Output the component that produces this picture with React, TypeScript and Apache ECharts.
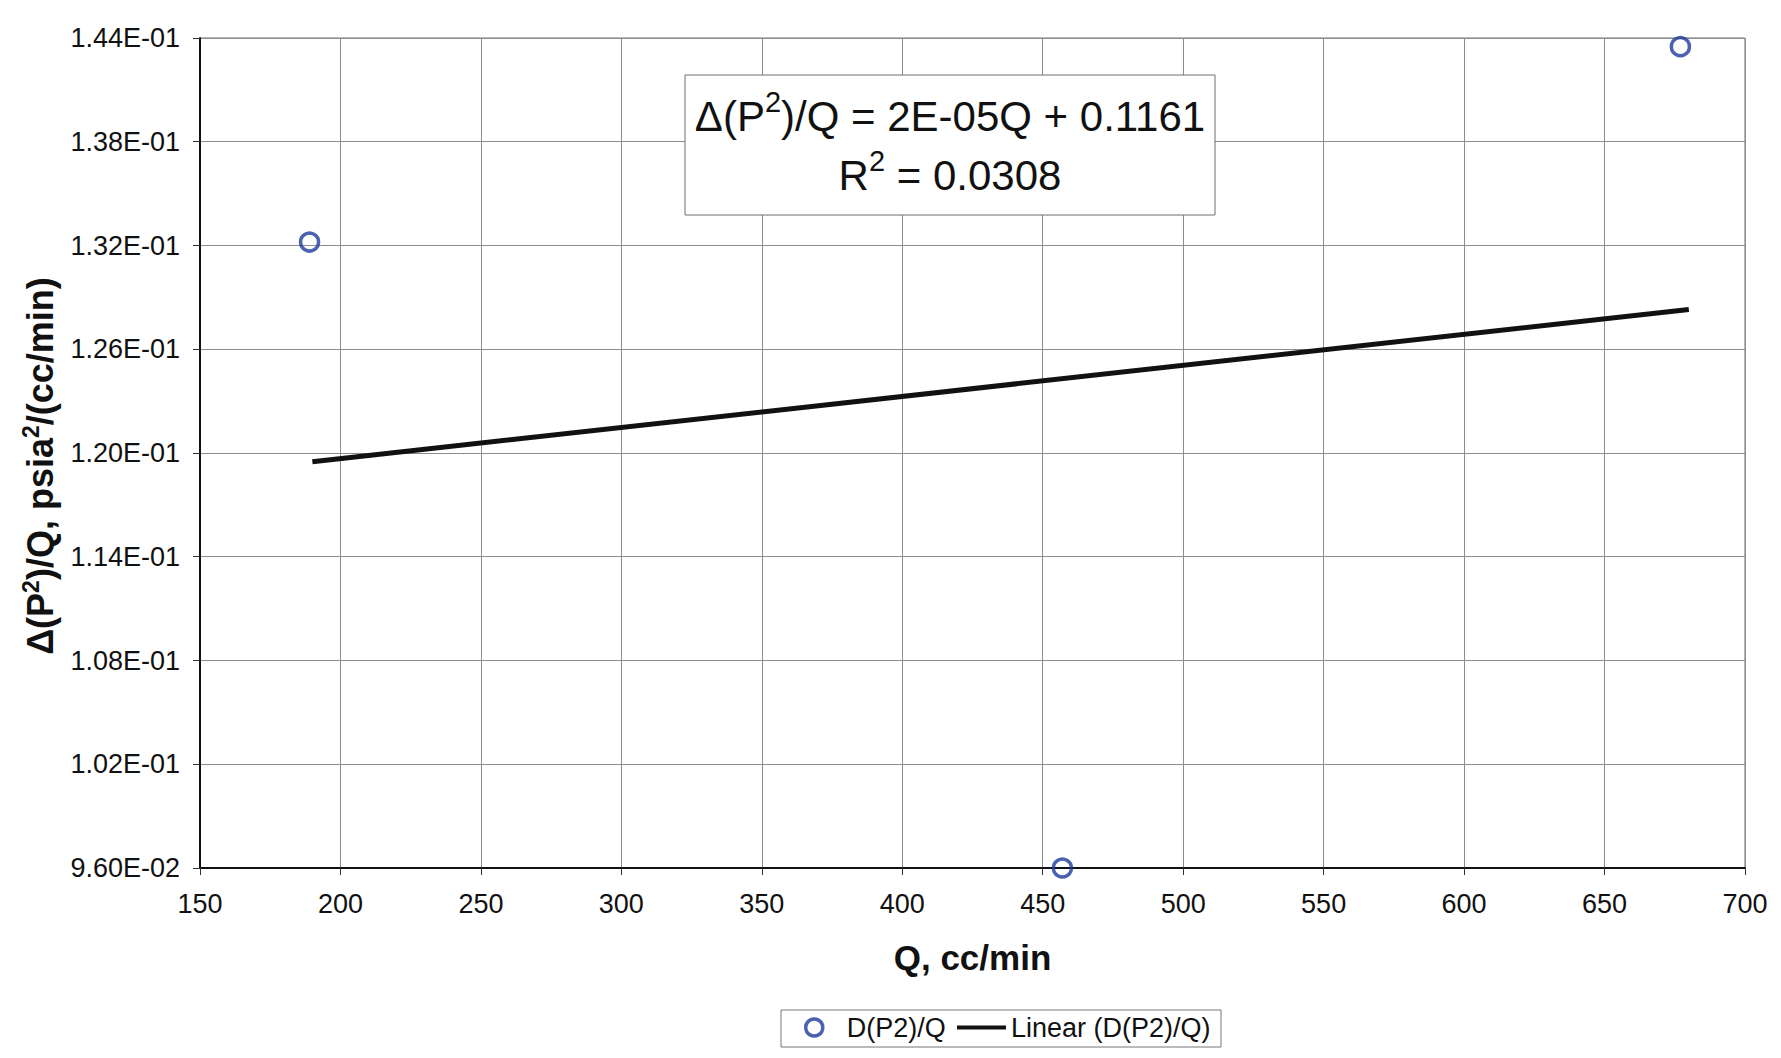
import React, { useEffect, useRef } from "react";
import * as echarts from "echarts";

// Data
const flowRates = [189, 457, 677]; // Q, cc/min
const dp2OverQ = [0.1322, 0.096, 0.1435]; // Δ(P²)/Q
const trendQ = [190, 680];
const trendValues = [0.1195, 0.1283];

const xTicks = { min: 150, max: 700, interval: 50 };
const yTicks = { min: 0.096, max: 0.144, interval: 0.006 };

const seriesName = "D(P2)/Q";
const trendName = "Linear (D(P2)/Q)";
const xTitle = "Q, cc/min";
const yTitleParts = ["Δ(P", "2", ")/Q, psia", "2", "/(cc/min)"];
const equationLine1 = ["Δ(P", "2", ")/Q = 2E-05Q + 0.1161"];
const equationLine2 = ["R", "2", " = 0.0308"];

const FONT = "Liberation Sans, Arial, Helvetica, sans-serif";
const BLUE = "#1d3b9c";

function sci(v: number): string {
  if (v === 0) return "0.00E+00";
  let e = Math.floor(Math.log10(Math.abs(v)) + 1e-9);
  let m = v / Math.pow(10, e);
  if (Math.abs(m) >= 9.995) {
    e += 1;
    m = v / Math.pow(10, e);
  }
  const sign = e < 0 ? "-" : "+";
  const ae = Math.abs(e);
  return m.toFixed(2) + "E" + sign + (ae < 10 ? "0" + ae : String(ae));
}

export default function App() {
  const ref = useRef<HTMLDivElement>(null);

  useEffect(() => {
    if (!ref.current) return;
    const chart = echarts.init(ref.current, null, { renderer: "svg" });
    const scatterData = flowRates.map((q, i) => [q, dp2OverQ[i]]);
    const trendData = trendQ.map((q, i) => [q, trendValues[i]]);

    const legendText = { fontFamily: FONT, fontSize: 27, color: "#111" };

    chart.setOption({
      animation: false,
      backgroundColor: "#ffffff",
      textStyle: { fontFamily: FONT },
      grid: {
        left: 192,
        right: 28,
        top: 30,
        bottom: 182,
        show: true,
        borderColor: "#6e6e6e",
        borderWidth: 1,
        backgroundColor: "transparent",
      },
      xAxis: {
        type: "value",
        min: xTicks.min,
        max: xTicks.max,
        interval: xTicks.interval,
        name: xTitle,
        nameLocation: "middle",
        nameGap: 72,
        nameTextStyle: {
          fontFamily: FONT,
          fontSize: 35,
          fontWeight: "bold",
          color: "#111",
        },
        axisLine: { show: true, lineStyle: { color: "#111", width: 2 } },
        axisTick: { show: true, inside: false, length: 7, lineStyle: { color: "#333" } },
        axisLabel: {
          fontFamily: FONT,
          fontSize: 27,
          color: "#111",
          margin: 22,
        },
        splitLine: { show: true, lineStyle: { color: "#8c8c8c", width: 1 } },
      },
      yAxis: {
        type: "value",
        min: yTicks.min,
        max: yTicks.max,
        interval: yTicks.interval,
        axisLine: { show: true, lineStyle: { color: "#111", width: 2 } },
        axisTick: { show: true, inside: false, length: 7, lineStyle: { color: "#333" } },
        axisLabel: {
          fontFamily: FONT,
          fontSize: 27,
          color: "#111",
          margin: 20,
          formatter: (v: number) => sci(v),
        },
        splitLine: { show: true, lineStyle: { color: "#8c8c8c", width: 1 } },
      },
      legend: [
        {
          left: 796,
          top: 1006,
          orient: "horizontal",
          padding: 0,
          itemWidth: 17,
          itemHeight: 17,
          itemStyle: { color: "transparent", borderColor: BLUE, borderWidth: 3.5 },
          textStyle: { ...legendText, padding: [0, 0, 0, 19] },
          data: [{ name: seriesName, icon: "circle" }],
        },
        {
          left: 949,
          top: 1006,
          orient: "horizontal",
          padding: 0,
          itemWidth: 49,
          itemHeight: 4,
          itemStyle: { color: "#111", borderWidth: 0 },
          textStyle: legendText,
          data: [{ name: trendName, icon: "rect" }],
        },
      ],
      graphic: [
        {
          type: "rect",
          shape: { x: 773, y: 1002, width: 440, height: 37 },
          style: { fill: "transparent", stroke: "#777777", lineWidth: 1 },
          z: 1,
          silent: true,
        },
        {
          type: "text",
          x: 32,
          y: 458,
          rotation: Math.PI / 2,
          z: 11,
          style: {
            text:
              "{b|" + yTitleParts[0] + "}{bs|" + yTitleParts[1] + "}{b|" + yTitleParts[2] +
              "}{bs|" + yTitleParts[3] + "}{b|" + yTitleParts[4] + "}",
            align: "center",
            verticalAlign: "middle",
            rich: {
              b: {
                fontFamily: FONT,
                fontSize: 36,
                fontWeight: "bold",
                fill: "#111",
                lineHeight: 42,
              },
              bs: {
                fontFamily: FONT,
                fontSize: 23,
                fontWeight: "bold",
                fill: "#111",
                lineHeight: 26,
                verticalAlign: "top",
              },
            },
          },
        },
        {
          type: "rect",
          shape: { x: 677, y: 67, width: 530, height: 140 },
          style: { fill: "#ffffff", stroke: "#6e6e6e", lineWidth: 1 },
          z: 10,
        },
        {
          type: "text",
          x: 942,
          y: 138,
          z: 11,
          style: {
            text:
              "{n|" + equationLine1[0] + "}{s|" + equationLine1[1] + "}{n|" + equationLine1[2] + "}\n" +
              "{n|" + equationLine2[0] + "}{s|" + equationLine2[1] + "}{n|" + equationLine2[2] + "}",
            align: "center",
            verticalAlign: "middle",
            rich: {
              n: { fontFamily: FONT, fontSize: 42, fill: "#111", lineHeight: 59 },
              s: {
                fontFamily: FONT,
                fontSize: 29,
                fill: "#111",
                lineHeight: 40,
                verticalAlign: "top",
              },
            },
          },
        },
      ],
      series: [
        {
          name: seriesName,
          type: "scatter",
          data: scatterData,
          symbol: "circle",
          symbolSize: 18,
          itemStyle: { color: "rgba(255,255,255,0)", borderColor: BLUE, borderWidth: 3.5 },
          z: 5,
        },
        {
          name: trendName,
          type: "line",
          data: trendData,
          symbol: "none",
          showSymbol: false,
          lineStyle: { color: "#111", width: 5 },
          itemStyle: { color: "#111" },
          z: 4,
        },
      ],
    });

    return () => chart.dispose();
  }, []);

  return (
    <div
      ref={ref}
      style={{ width: 1765, height: 1042, background: "#ffffff" }}
    />
  );
}
